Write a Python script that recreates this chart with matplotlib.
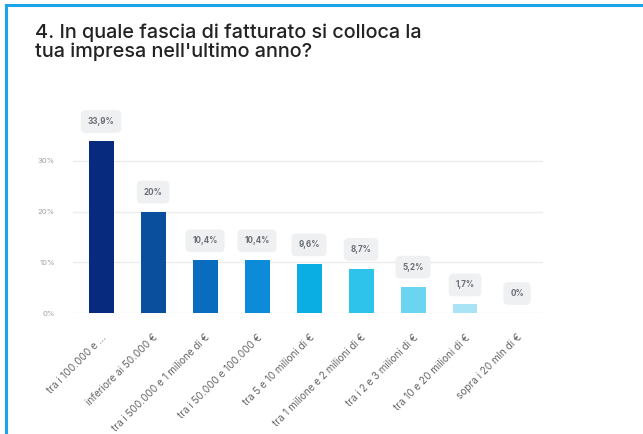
import matplotlib
matplotlib.use("Agg")
import matplotlib.pyplot as plt
from matplotlib.lines import Line2D

categories = ["tra i 100.000 e ...", "inferiore ai 50.000 €",
              "tra i 500.000 e 1 milione di €", "tra i 50.000 e 100.000 €",
              "tra 5 e 10 milioni di €", "tra 1 milione e 2 milioni di €",
              "tra i 2 e 3 milioni di €", "tra 10 e 20 milioni di €",
              "sopra i 20 mln di €"]
values = [33.9, 20, 10.4, 10.4, 9.6, 8.7, 5.2, 1.7, 0]
value_labels = ["33,9%", "20%", "10,4%", "10,4%", "9,6%", "8,7%", "5,2%", "1,7%", "0%"]
yticks = [0, 10, 20, 30]
ytick_labels = ["0%", "10%", "20%", "30%"]

colors = ["#082a7e", "#0a4e9e", "#0a6cbf", "#0b8bd8", "#0aaee2",
          "#2ec3ea", "#6bd4f0", "#a8e4f6", "#d0f0fa"]

plt.rcParams['font.family'] = ['Inter', 'DejaVu Sans']

fig = plt.figure(figsize=(6.43, 4.34), dpi=100)
fig.patch.set_facecolor("white")

# blue frame (only top and left visible in the crop)
fig.add_artist(Line2D([6/643, 6/643], [0, 1 - 5/434], transform=fig.transFigure,
                      color="#1ba4ea", lw=2.2))
fig.add_artist(Line2D([6/643, 1], [1 - 5/434, 1 - 5/434], transform=fig.transFigure,
                      color="#1ba4ea", lw=2.2))

fig.text(35/643, 1 - 23/434, "4. In quale fascia di fatturato si colloca la\ntua impresa nell'ultimo anno?",
         ha="left", va="top", fontsize=14.3, fontweight="medium", color="#222222",
         linespacing=1.05)

ax = fig.add_axes([73/643, 0.2788, 470/643, 0.4677])
x = range(len(values))
ax.bar(x, values, width=0.48, color=colors, zorder=3)

for xi, v, lab in zip(x, values, value_labels):
    ax.annotate(lab, (xi, v), xytext=(0, 14), textcoords="offset points",
                ha="center", va="center", fontsize=5.8, fontweight="bold", color="#6a6e75",
                bbox=dict(boxstyle="round,pad=0.85,rounding_size=0.6", fc="#eef0f2", ec="none"),
                zorder=4)

ax.set_xlim(-0.54, 8.5)
ax.set_ylim(0, 40)
ax.set_yticks(yticks)
ax.set_yticklabels(ytick_labels)
ax.yaxis.grid(True, color="#ececec", lw=1, zorder=0)
ax.tick_params(axis="y", length=0, labelsize=5.5, labelcolor="#a0a0a0", pad=13)
ax.set_xticks(list(x))
ax.set_xticklabels(categories, rotation=45, ha="right", rotation_mode="anchor",
                   fontsize=7.2, color="#666666")
ax.tick_params(axis="x", length=0, pad=14)
for s in ax.spines.values():
    s.set_visible(False)

fig.savefig("out.png", dpi=100)
